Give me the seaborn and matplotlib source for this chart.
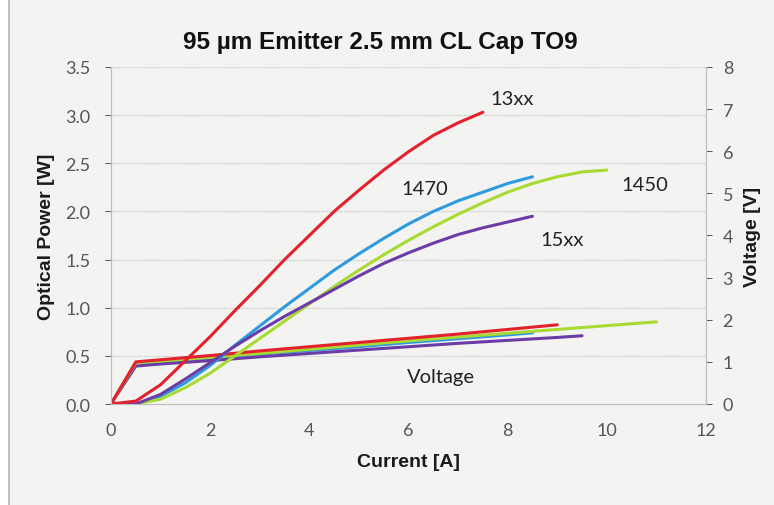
import numpy as np
import pandas as pd
import matplotlib
matplotlib.use("Agg")
import matplotlib.pyplot as plt
from matplotlib.lines import Line2D
from matplotlib.patches import Rectangle
import seaborn as sns

# Optical power vs. drive current [A] -> [W]
current_13xx = [0, 0.5, 1, 1.5, 2, 2.5, 3, 3.5, 4, 4.5, 5, 5.5, 6, 6.5, 7, 7.5]
power_13xx = [0, 0.03, 0.2, 0.45, 0.7, 0.97, 1.23, 1.5, 1.75, 2.0, 2.22, 2.43, 2.62, 2.79, 2.92, 3.03]

current_1470 = [0, 0.5, 1, 1.5, 2, 2.5, 3, 3.5, 4, 4.5, 5, 5.5, 6, 6.5, 7, 7.5, 8, 8.5]
power_1470 = [0, 0, 0.08, 0.22, 0.4, 0.61, 0.81, 1.01, 1.2, 1.39, 1.56, 1.72, 1.87, 2.0, 2.11, 2.2, 2.29, 2.36]

current_1450 = [0, 0.5, 1, 1.5, 2, 2.5, 3, 3.5, 4, 4.5, 5, 5.5, 6, 6.5, 7, 7.5, 8, 8.5, 9, 9.5, 10]
power_1450 = [0, 0, 0.05, 0.17, 0.32, 0.5, 0.68, 0.86, 1.04, 1.22, 1.39, 1.55, 1.7, 1.84, 1.97, 2.09, 2.2, 2.29, 2.36, 2.41, 2.43]

current_15xx = [0, 0.5, 1, 1.5, 2, 2.5, 3, 3.5, 4, 4.5, 5, 5.5, 6, 6.5, 7, 7.5, 8, 8.5]
power_15xx = [0, 0, 0.1, 0.26, 0.43, 0.6, 0.76, 0.91, 1.05, 1.19, 1.33, 1.46, 1.57, 1.67, 1.76, 1.83, 1.89, 1.95]

# Forward voltage vs. drive current [A] -> [V]
vcurrent_13xx = [0, 0.5, 1, 2, 3, 4, 5, 6, 7, 8, 9]
voltage_13xx = [0, 1.0, 1.05, 1.15, 1.26, 1.36, 1.46, 1.56, 1.66, 1.77, 1.88]

vcurrent_1470 = [0, 0.5, 1, 2, 3, 4, 5, 6, 7, 8, 8.5]
voltage_1470 = [0, 0.97, 1.01, 1.09, 1.18, 1.27, 1.36, 1.46, 1.55, 1.64, 1.69]

vcurrent_1450 = [0, 0.5, 1, 2, 3, 4, 5, 6, 7, 8, 9, 10, 11]
voltage_1450 = [0, 0.98, 1.02, 1.11, 1.2, 1.3, 1.4, 1.5, 1.59, 1.68, 1.77, 1.86, 1.95]

vcurrent_15xx = [0, 0.5, 1, 2, 3, 4, 5, 6, 7, 8, 9, 9.5]
voltage_15xx = [0, 0.9, 0.95, 1.03, 1.12, 1.2, 1.28, 1.36, 1.44, 1.51, 1.58, 1.62]

series_colors = {"13xx": "#e3202c", "1470": "#2e9ae0", "1450": "#a8da32", "15xx": "#6c3ca6"}

power_df = pd.concat([
    pd.DataFrame({"Current": current_1470, "Power": power_1470, "Series": "1470"}),
    pd.DataFrame({"Current": current_1450, "Power": power_1450, "Series": "1450"}),
    pd.DataFrame({"Current": current_15xx, "Power": power_15xx, "Series": "15xx"}),
    pd.DataFrame({"Current": current_13xx, "Power": power_13xx, "Series": "13xx"}),
], ignore_index=True)

voltage_df = pd.concat([
    pd.DataFrame({"Current": vcurrent_1470, "Voltage": voltage_1470, "Series": "1470"}),
    pd.DataFrame({"Current": vcurrent_15xx, "Voltage": voltage_15xx, "Series": "15xx"}),
    pd.DataFrame({"Current": vcurrent_1450, "Voltage": voltage_1450, "Series": "1450"}),
    pd.DataFrame({"Current": vcurrent_13xx, "Voltage": voltage_13xx, "Series": "13xx"}),
], ignore_index=True)

series_labels = ["13xx", "1470", "1450", "15xx", "Voltage"]
label_x = [8.08, 6.33, 10.77, 9.09, 6.65]
label_y = [3.17, 2.24, 2.28, 1.71, 0.29]

sns.set_theme(style="white")
plt.rcParams["font.family"] = ["Lato", "DejaVu Sans"]

bg = "#f3f3f1"
fig = plt.figure(figsize=(7.74, 5.06), dpi=100, facecolor=bg)
fig.patches.append(Rectangle((0, 0), 8 / 774, 1, transform=fig.transFigure,
                             facecolor="white", edgecolor="none", zorder=0))
fig.add_artist(Line2D([8.5 / 774, 8.5 / 774], [0, 1], transform=fig.transFigure,
                      color="#b8b8b8", lw=1.2))

ax = fig.add_axes([111 / 774, 1 - 405 / 506, (706 - 111) / 774, (405 - 68) / 506])
ax.set_facecolor(bg)
ax2 = ax.twinx()

sns.lineplot(data=voltage_df, x="Current", y="Voltage", hue="Series", palette=series_colors,
             sort=False, ax=ax2, lw=2.2, legend=False, estimator=None)
sns.lineplot(data=power_df, x="Current", y="Power", hue="Series", palette=series_colors,
             sort=False, ax=ax, lw=2.2, legend=False, estimator=None)
for a in (ax, ax2):
    for ln in a.get_lines():
        ln.set_solid_joinstyle("round")
        ln.set_solid_capstyle("round")

# power curves sit above the voltage axis
ax.set_zorder(ax2.get_zorder() + 1)
ax.patch.set_visible(False)
ax2.patch.set_visible(True)
ax2.patch.set_facecolor(bg)

ax.set_xlim(0, 12)
ax.set_ylim(0, 3.5)
ax2.set_ylim(0, 8)
ax.set_xticks(np.arange(0, 13, 2))
ax.set_yticks(np.arange(0, 3.51, 0.5))
ax.set_yticklabels([f"{v:.1f}" for v in np.arange(0, 3.51, 0.5)])
ax2.set_yticks(np.arange(0, 9, 1))

for y in np.arange(0.5, 3.51, 0.5):
    ax2.axhline(y * 8 / 3.5, color="#c4c4c4", lw=0.9, ls=(0, (1, 1)), zorder=0)

tick_color = "#555555"
ax.tick_params(axis="y", labelsize=13, colors=tick_color, length=4, width=0.7, pad=11)
ax.tick_params(axis="x", labelsize=13, colors=tick_color, length=4, width=0.7,
               direction="in", pad=13)
ax2.tick_params(axis="y", labelsize=13, colors=tick_color, length=4, width=0.7, pad=8)
for a in (ax, ax2):
    for s in a.spines.values():
        s.set_color("#bdbdbd")
        s.set_linewidth(0.8)
    a.spines["top"].set_visible(False)

label_font = dict(family=["Liberation Sans", "DejaVu Sans"], weight="bold", size=14, color="#1a1a1a")
ax.set_xlabel("Current [A]", labelpad=11, **label_font)
ax.set_ylabel("Optical Power [W]", labelpad=7, **label_font)
ax2.set_ylabel("Voltage [V]", labelpad=8, **label_font)

fig.text(380 / 774, 1 - 42 / 506, "95 µm Emitter 2.5 mm CL Cap TO9", ha="center", va="center",
         family=["Liberation Sans", "DejaVu Sans"], weight="bold", size=17.5, color="#111111")

for name, x, y in zip(series_labels, label_x, label_y):
    ax.text(x, y, name, ha="center", va="center", fontsize=14.5, color="#222222")

fig.savefig("out.png", dpi=100, facecolor=bg)
